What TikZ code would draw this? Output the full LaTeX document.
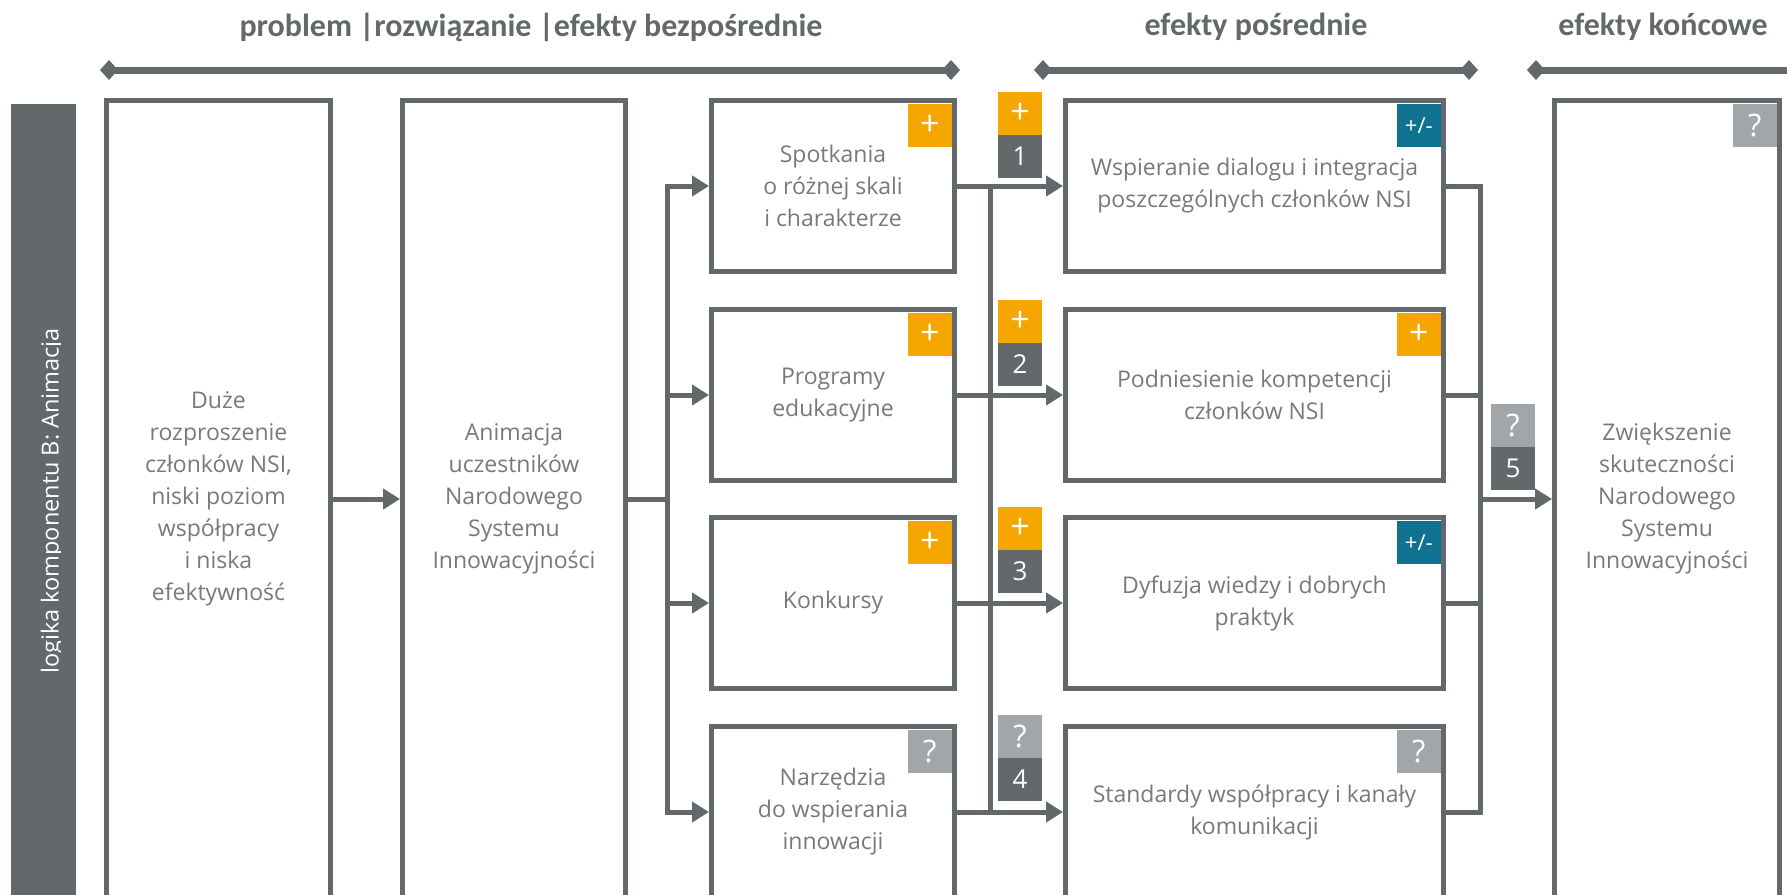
\documentclass[tikz,border=0pt]{standalone}
\usepackage{fontspec}
\setmainfont{Open Sans}
\newfontfamily\headfont{Carlito}
\usetikzlibrary{arrows.meta}
\definecolor{linegray}{RGB}{99,104,106}
\definecolor{txtgray}{RGB}{118,122,125}
\definecolor{badgeorange}{RGB}{245,166,0}
\definecolor{badgeteal}{RGB}{16,114,145}
\definecolor{badgelight}{RGB}{163,166,168}
\definecolor{badgedark}{RGB}{99,104,106}

\begin{document}
\begin{tikzpicture}[x=1pt,y=-1pt,
  box/.style={draw=linegray, line width=5pt, fill=white, inner sep=0pt,
    text=txtgray, align=center, font=\fontsize{23}{32}\selectfont},
  midbox/.style={box, minimum width=243pt, minimum height=171pt},
  outbox/.style={box, minimum width=378pt, minimum height=171pt},
  tallbox/.style={box, minimum width=224pt, minimum height=797pt},
  badge/.style={inner sep=0pt, minimum width=44pt, minimum height=43pt,
    text=white, font=\fontsize{26}{26}\selectfont},
  plusb/.style={badge, fill=badgeorange, font=\fontsize{34}{34}\selectfont},
  mixb/.style={badge, fill=badgeteal, font=\fontsize{22}{22}\selectfont},
  askb/.style={badge, fill=badgelight, font=\fontsize{31}{31}\selectfont},
  numb/.style={badge, fill=badgedark},
  link/.style={draw=linegray, line width=5pt, line cap=rect},
  arr/.style={link, -{Triangle[length=17pt,width=20pt]}},
  span/.style={draw=linegray, line width=7pt,
    {Diamond[length=18pt,width=20pt]}-{Diamond[length=18pt,width=20pt]}},
  head/.style={text=linegray, font=\headfont\bfseries\fontsize{32}{34}\selectfont},
]
\useasboundingbox (0,0) rectangle (1787,894);
\fill[white] (0,0) rectangle (1787,894);
\clip (0,0) rectangle (1787,894);

% column headings and their spans
\node[head] (h1) at (531,27) {problem |rozwiązanie |efekty bezpośrednie};
\node[head] (h2) at (1256,27) {efekty pośrednie};
\node[head] (h3) at (1663,27) {efekty końcowe};
\draw[span] (100,70) -- (960,70);
\draw[span] (1034,70) -- (1478,70);
\draw[span] (1527,70) -- (1830,70);

% side label, its descenders trimmed at the baseline
\node[fill=linegray, minimum width=65pt, minimum height=800pt, inner sep=0pt] (bar) at (43.5,504) {};
\begin{scope}
  \clip (0,104) rectangle (60,894);
  \node[rotate=90, anchor=base, text=white, inner sep=0pt,
    font=\fontsize{23.5}{24}\selectfont] (lbl) at (58.5,501)
    {logika komponentu B: Animacja};
\end{scope}

% problem and solution
\node[tallbox] (pa) at (218.5,499) {Duże\\rozproszenie\\członków NSI,\\niski poziom\\współpracy\\i niska\\efektywność};
\node[tallbox, minimum width=223pt] (pb) at (514,499) {Animacja\\uczestników\\Narodowego\\Systemu\\Innowacyjności};

% direct effects
\node[midbox] (m1) at (833,186) {Spotkania\\o różnej skali\\i charakterze};
\node[midbox] (m2) at (833,395) {Programy\\edukacyjne};
\node[midbox] (m3) at (833,603) {Konkursy};
\node[midbox] (m4) at (833,812) {Narzędzia\\do wspierania\\innowacji};

% intermediate effects
\node[outbox] (r1) at (1254.5,186) {Wspieranie dialogu i integracja\\poszczególnych członków NSI};
\node[outbox] (r2) at (1254.5,395) {Podniesienie kompetencji\\członków NSI};
\node[outbox] (r3) at (1254.5,603) {Dyfuzja wiedzy i dobrych\\praktyk};
\node[outbox] (r4) at (1254.5,812) {Standardy współpracy i kanały\\komunikacji};

% final effect
\node[tallbox, minimum width=225pt] (fin) at (1667,499) {Zwiększenie\\skuteczności\\Narodowego\\Systemu\\Innowacyjności};

% assessment badges inside boxes
\node[plusb, anchor=north east] (m1b) at ([xshift=-5pt,yshift=-6pt]m1.north east) {+};
\node[plusb, anchor=north east] (m2b) at ([xshift=-5pt,yshift=-6pt]m2.north east) {+};
\node[plusb, anchor=north east] (m3b) at ([xshift=-5pt,yshift=-6pt]m3.north east) {+};
\node[askb, anchor=north east] (m4b) at ([xshift=-5pt,yshift=-6pt]m4.north east) {?};
\node[mixb, anchor=north east] (r1b) at ([xshift=-5pt,yshift=-6pt]r1.north east) {+/-};
\node[plusb, anchor=north east] (r2b) at ([xshift=-5pt,yshift=-6pt]r2.north east) {+};
\node[mixb, anchor=north east] (r3b) at ([xshift=-5pt,yshift=-6pt]r3.north east) {+/-};
\node[askb, anchor=north east] (r4b) at ([xshift=-5pt,yshift=-6pt]r4.north east) {?};
\node[askb, anchor=north east] (finb) at ([xshift=-5pt,yshift=-6pt]fin.north east) {?};

% connectors: problem -> solution -> direct effects
\draw[arr] (pa.east) -- (pb.west);
\coordinate (f1) at (667,499);
\draw[link] (pb.east) -- (f1);
\draw[link] (f1 |- m1.west) -- (f1 |- m4.west);
\foreach \i in {1,...,4} \draw[arr] (f1 |- m\i.west) -- (m\i.west);

% direct -> intermediate effects
\coordinate (f2) at (990,499);
\draw[link] (f2 |- m1.east) -- (f2 |- m4.east);
\foreach \i in {1,...,4} \draw[arr] (m\i.east) -- (r\i.west);

% intermediate -> final effect
\coordinate (f3) at (1480,499);
\foreach \i in {1,...,4} \draw[link] (r\i.east) -- (f3 |- r\i.east);
\draw[link] (f3 |- r1.east) -- (f3 |- r4.east);
\draw[arr] (f3 |- fin.west) -- (fin.west);

% link badges
\node[plusb] (k1a) at (1020,113.5) {+};
\node[numb]  (k1b) at (1020,156.5) {1};
\node[plusb] (k2a) at (1020,321.5) {+};
\node[numb]  (k2b) at (1020,364.5) {2};
\node[plusb] (k3a) at (1020,528) {+};
\node[numb]  (k3b) at (1020,571) {3};
\node[askb]  (k4a) at (1020,736) {?};
\node[numb]  (k4b) at (1020,779) {4};
\node[askb]  (k5a) at (1513,425) {?};
\node[numb]  (k5b) at (1513,468) {5};
\end{tikzpicture}
\end{document}
